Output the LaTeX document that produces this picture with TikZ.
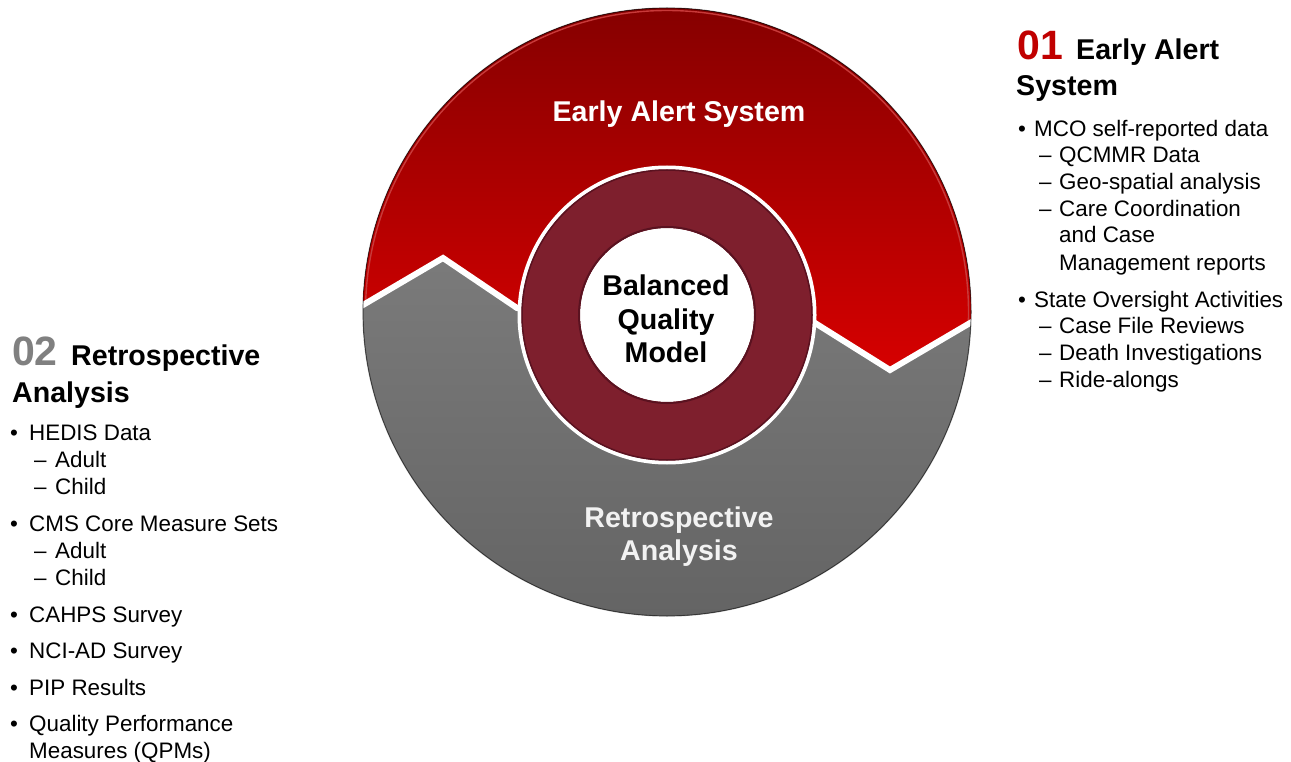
\documentclass[tikz,border=0pt]{standalone}
\usepackage{fontspec}
\setmainfont{Liberation Sans}
\definecolor{redTop}{HTML}{840000}
\definecolor{redBot}{HTML}{D60000}
\definecolor{redDark}{HTML}{7A0000}
\definecolor{redHi}{HTML}{C83A3A}
\definecolor{grayTop}{HTML}{8A8A8A}
\definecolor{grayBot}{HTML}{646464}
\definecolor{grayHi}{HTML}{ABABAB}
\definecolor{ringc}{HTML}{7E1F2D}
\definecolor{ringdark}{HTML}{5A1220}
\definecolor{redNum}{HTML}{C00000}
\definecolor{grayNum}{HTML}{808080}
\begin{document}
\begin{tikzpicture}[x=1pt,y=-1pt,
  body/.style={font=\fontsize{22.4}{26}\selectfont, anchor=base west, inner sep=0pt, text=black},
  head/.style={font=\fontsize{28.6}{33}\selectfont\bfseries, anchor=base west, inner sep=0pt, text=black},
  bignum/.style={font=\fontsize{41}{44}\selectfont\bfseries, anchor=base west, inner sep=0pt},
  intext/.style={font=\fontsize{28.6}{33}\selectfont\bfseries, anchor=base, inner sep=0pt},
]
\useasboundingbox (0,0) rectangle (1291,762);
\coordinate (C) at (667,312);
\coordinate (R) at (667,315);
% boundary between the two arrows
\coordinate (b0) at (340,318.5);
\coordinate (b1) at (443,258);
\coordinate (b2) at (517,308);
\coordinate (b3) at (815,323);
\coordinate (b4) at (890,370);
\coordinate (b5) at (1000,305.4);

% gray disk
\fill[top color=grayTop, bottom color=grayBot] (C) circle (304);
\begin{scope}
  \clip (C) circle (304);
  \fill[top color=redTop, bottom color=redBot] (340,0) -- (b0) -- (b1) -- (b2) -- (b3) -- (b4) -- (b5) -- (1000,0) -- cycle;
  \begin{scope}
    \clip (340,0) -- (b0) -- (b1) -- (b2) -- (b3) -- (b4) -- (b5) -- (1000,0) -- cycle;
    \draw[redHi, line width=1.4] (C) circle (301.5);
  \end{scope}
  \draw[redDark, line width=2.5, shift={(0,-4.5)}, line join=miter] (b0) -- (b1) -- (b2) -- (b3) -- (b4) -- (b5);
  \draw[grayHi, line width=2, shift={(0,5)}, line join=miter] (b0) -- (b1) -- (b2) -- (b3) -- (b4) -- (b5);
  \draw[white, line width=6, line join=miter] (b0) -- (b1) -- (b2) -- (b3) -- (b4) -- (b5);
\end{scope}
\draw[black, opacity=0.45, line width=1.2] (C) circle (304);

% central ring
\fill[white] (R) circle (149.5);
\fill[ringc] (R) circle (145.5);
\draw[ringdark, line width=1.5] (R) circle (145);
\fill[white] (R) circle (87);
\draw[ringdark, line width=2] (R) circle (88);

% texts in the circle
\node[intext, text=white] (eas) at (679,122) {Early Alert System};
\node[intext, text=white!95!black] (ra1) at (679,527) {Retrospective};
\node[intext, text=white!95!black] (ra2) at (679,560) {Analysis};
\node[intext, text=black] (bq1) at (666,295) {Balanced};
\node[intext, text=black] (bq2) at (666,329) {Quality};
\node[intext, text=black] (bq3) at (666,362) {Model};

% right column
\node[bignum, text=redNum] (n01) at (1017,60) {01};
\node[head] (h1a) at (1076,60) {Early Alert};
\node[head] (h1b) at (1016,96) {System};
\node[body] (r1b) at (1018,137) {•};
\node[body] (r1) at (1034,137) {MCO self-reported data};
\node[body] (r2d) at (1039,163) {–};
\node[body] (r2) at (1059,163) {QCMMR Data};
\node[body] (r3d) at (1039,190) {–};
\node[body] (r3) at (1059,190) {Geo-spatial analysis};
\node[body] (r4d) at (1039,217) {–};
\node[body] (r4) at (1059,217) {Care Coordination};
\node[body] (r5) at (1059,243) {and Case};
\node[body] (r6) at (1059,270) {Management reports};
\node[body] (r7b) at (1018,307) {•};
\node[body] (r7) at (1034,307) {State Oversight Activities};
\node[body] (r8d) at (1039,333) {–};
\node[body] (r8) at (1059,333) {Case File Reviews};
\node[body] (r9d) at (1039,360) {–};
\node[body] (r9) at (1059,360) {Death Investigations};
\node[body] (r10d) at (1039,387) {–};
\node[body] (r10) at (1059,387) {Ride-alongs};

% left column
\node[bignum, text=grayNum] (n02) at (12,365) {02};
\node[head] (h2a) at (71,365) {Retrospective};
\node[head] (h2b) at (12,402) {Analysis};
\node[body] (l1b) at (10,440) {•};
\node[body] (l1) at (29,440) {HEDIS Data};
\node[body] (l2d) at (34,467) {–};
\node[body] (l2) at (55,467) {Adult};
\node[body] (l3d) at (34,494) {–};
\node[body] (l3) at (55,494) {Child};
\node[body] (l4b) at (10,531) {•};
\node[body] (l4) at (29,531) {CMS Core Measure Sets};
\node[body] (l5d) at (34,558) {–};
\node[body] (l5) at (55,558) {Adult};
\node[body] (l6d) at (34,585) {–};
\node[body] (l6) at (55,585) {Child};
\node[body] (l7b) at (10,622) {•};
\node[body] (l7) at (29,622) {CAHPS Survey};
\node[body] (l8b) at (10,658) {•};
\node[body] (l8) at (29,658) {NCI-AD Survey};
\node[body] (l9b) at (10,695) {•};
\node[body] (l9) at (29,695) {PIP Results};
\node[body] (l10b) at (10,731) {•};
\node[body] (l10) at (29,731) {Quality Performance};
\node[body] (l11) at (29,758) {Measures (QPMs)};
\end{tikzpicture}
\end{document}
